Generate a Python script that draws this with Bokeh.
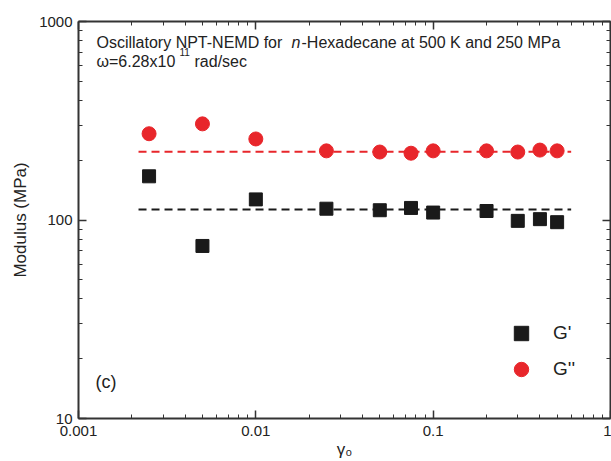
from bokeh.plotting import figure
from bokeh.models import Range1d, LogAxis, Label, Legend, LegendItem, FixedTicker, ColumnDataSource
from bokeh.embed import file_html
from bokeh.resources import INLINE

# data
strain = [0.0025, 0.005, 0.01, 0.025, 0.05, 0.075, 0.1, 0.2, 0.3, 0.4, 0.5]
g_storage = [166, 74, 127, 114, 112, 115, 109, 111, 99, 101, 97.5]
g_loss = [272, 305, 256, 223, 220, 217, 223, 223, 220, 225, 223]
fit_x = [0.00218, 0.6]
fit_storage = [113, 113]
fit_loss = [221, 221]
x_ticks = [0.001, 0.01, 0.1, 1]
y_ticks = [10, 100, 1000]

FONT = "Liberation Sans"
RED = "#e8262b"
BLACK = "#1a1a1a"
AX = "#333333"

x_minor = [m * d for d in [0.001, 0.01, 0.1] for m in range(2, 10)]
y_minor = [m * d for d in [10, 100] for m in range(2, 10)]

p = figure(width=611, height=461, x_axis_type="log", y_axis_type="log",
           x_range=Range1d(0.001, 1), y_range=Range1d(10, 1000),
           output_backend="svg", toolbar_location=None,
           min_border_left=78, min_border_right=1, min_border_top=21, min_border_bottom=41)
p.grid.visible = False
p.outline_line_color = None
p.background_fill_color = "white"
p.border_fill_color = "white"


def style_axis(ax):
    ax.major_tick_in = 8
    ax.major_tick_out = 0
    ax.minor_tick_in = 4
    ax.minor_tick_out = 0
    ax.axis_line_width = 2
    ax.axis_line_color = AX
    ax.major_tick_line_color = AX
    ax.minor_tick_line_color = AX
    ax.major_tick_line_width = 1.5


for ax in (p.xaxis[0], p.yaxis[0]):
    style_axis(ax)
    ax.major_label_text_font = FONT
    ax.major_label_text_font_size = "15px"
    ax.major_label_text_color = "#222222"
    ax.axis_label_text_font = FONT
    ax.axis_label_text_font_style = "normal"
    ax.axis_label_text_color = "#222222"

p.xaxis[0].ticker = FixedTicker(ticks=x_ticks, minor_ticks=x_minor)
p.yaxis[0].ticker = FixedTicker(ticks=y_ticks, minor_ticks=y_minor)
p.xaxis[0].major_label_overrides = {0.001: "0.001", 0.01: "0.01", 0.1: "0.1", 1: "1"}
p.yaxis[0].major_label_overrides = {10: "10", 100: "100", 1000: "1000"}
p.xaxis[0].major_label_standoff = 7
p.yaxis[0].major_label_standoff = 6
p.xaxis[0].axis_label = "γ₀"
p.xaxis[0].axis_label_text_font_size = "17px"
p.xaxis[0].axis_label_standoff = 1
p.yaxis[0].axis_label = "Modulus (MPa)"
p.yaxis[0].axis_label_text_font_size = "17px"
p.yaxis[0].axis_label_standoff = 6

top = LogAxis(ticker=FixedTicker(ticks=x_ticks, minor_ticks=x_minor))
right = LogAxis(ticker=FixedTicker(ticks=y_ticks, minor_ticks=y_minor))
for ax in (top, right):
    style_axis(ax)
    ax.major_label_text_alpha = 0
    ax.major_label_text_font_size = "2px"
    ax.major_label_standoff = 0
p.add_layout(top, "above")
p.add_layout(right, "right")

p.line(fit_x, fit_loss, line_color=RED, line_width=2, line_dash="8 5")
p.line(fit_x, fit_storage, line_color=BLACK, line_width=2, line_dash="8 5")

src = ColumnDataSource(dict(x=strain, gs=g_storage, gl=g_loss))
r_s = p.scatter("x", "gs", source=src, marker="square", size=13, fill_color=BLACK, line_color=BLACK)
r_l = p.scatter("x", "gl", source=src, marker="circle", size=14, fill_color=RED, line_color=RED)

legend = Legend(items=[LegendItem(label="G'", renderers=[r_s]), LegendItem(label="G''", renderers=[r_l])],
                location=(415, 21), glyph_width=36, glyph_height=36, spacing=-6,
                label_standoff=14, label_text_font=FONT, label_text_font_size="19px",
                border_line_alpha=0, background_fill_alpha=0, label_text_color="#222222")
p.add_layout(legend)


def lab(x, y, text, size="16px", style="normal"):
    l = Label(x=x, y=y, x_units="screen", y_units="screen", text=text, text_font=FONT,
              text_font_size=size, text_font_style=style, text_baseline="middle", text_color="#222222")
    p.add_layout(l)


lab(18, 376, "Oscillatory NPT-NEMD for ")
lab(213, 376, "n", style="italic")
lab(223, 376, "-Hexadecane at 500 K and 250 MPa")
lab(18, 357, "ω=6.28x10")
lab(101, 367, "11", size="10px")
lab(116, 357, "rad/sec")
lab(17, 37, "(c)", size="18px")

open("out.html", "w").write(file_html(p, INLINE))
